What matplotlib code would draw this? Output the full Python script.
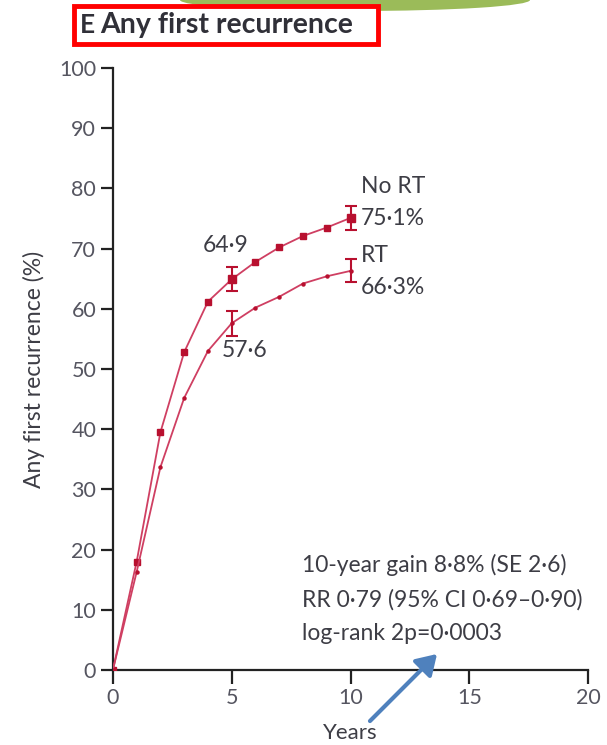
import numpy as np
import matplotlib
matplotlib.use('Agg')
import matplotlib.pyplot as plt
from matplotlib.patches import Rectangle, Ellipse, FancyArrowPatch

plt.rcParams['font.family'] = ['Lato', 'DejaVu Sans']

# data
years = [0, 1, 2, 3, 4, 5, 6, 7, 8, 9, 10]
no_rt = [0, 18.0, 39.5, 52.8, 61.2, 64.9, 67.8, 70.2, 72.1, 73.5, 75.1]
rt = [0, 16.3, 33.7, 45.2, 53.0, 57.6, 60.2, 62.0, 64.2, 65.4, 66.3]
err_years = [5, 10]
no_rt_err = [2.0, 2.0]
rt_err = [2.1, 1.9]
yticks = [0, 10, 20, 30, 40, 50, 60, 70, 80, 90, 100]
xticks = [0, 5, 10, 15, 20]

line_c = '#cf3f62'
mark_c = '#b8102f'
txt_c = '#3d3d45'

fig = plt.figure(figsize=(6.07, 7.45), dpi=100)
ax = fig.add_axes([0.186, 0.1007, 0.783, 0.808])

ax.plot(years, no_rt, color=line_c, lw=1.3, marker='s', ms=4.5,
        mfc=mark_c, mec=mark_c, zorder=3)
ax.plot(years, rt, color=line_c, lw=1.3, marker='o', ms=2.2,
        mfc=mark_c, mec=mark_c, zorder=3)
ax.errorbar(err_years, [no_rt[5], no_rt[10]], yerr=no_rt_err, fmt='s',
            color=mark_c, ms=6, capsize=4, elinewidth=1.5, capthick=1.5, zorder=4)
ax.errorbar(err_years, [rt[5], rt[10]], yerr=rt_err, fmt='none',
            ecolor=mark_c, capsize=4, elinewidth=1.5, capthick=1.5, zorder=4)

ax.set_xlim(0, 20)
ax.set_ylim(0, 100)
ax.set_xticks(xticks)
ax.set_yticks(yticks)
for s in ['top', 'right']:
    ax.spines[s].set_visible(False)
for s in ['left', 'bottom']:
    ax.spines[s].set_linewidth(1.6)
    ax.spines[s].set_color('#222222')
ax.tick_params(axis='both', direction='out', length=9, width=1.6,
               color='#222222', labelsize=15.5, labelcolor='#555560', pad=3)
ax.tick_params(axis='x', length=10, pad=3)

ax.set_ylabel('Any first recurrence (%)', fontsize=16.5, color=txt_c, labelpad=10)
ax.set_xlabel('Years', fontsize=16, color=txt_c, labelpad=11)

fs = 16.5
ax.text(10.45, 80.4, 'No RT', fontsize=fs, color=txt_c, va='center')
ax.text(10.45, 75.0, '75·1%', fontsize=fs, color=txt_c, va='center')
ax.text(10.45, 68.8, 'RT', fontsize=fs, color=txt_c, va='center')
ax.text(10.45, 63.5, '66·3%', fontsize=fs, color=txt_c, va='center')
ax.text(3.8, 70.5, '64·9', fontsize=fs, color=txt_c, va='center')
ax.text(4.6, 53.0, '57·6', fontsize=fs, color=txt_c, va='center')

ax.text(7.95, 17.4, '10-year gain 8·8% (SE 2·6)', fontsize=fs, color=txt_c, va='center')
ax.text(7.95, 11.6, 'RR 0·79 (95% CI 0·69–0·90)', fontsize=fs, color=txt_c, va='center')
ax.text(7.95, 6.0, 'log-rank 2p=0·0003', fontsize=fs, color=txt_c, va='center')

# green shape at top edge
W, H = 607, 745
fig.patches.append(Ellipse((355 / W, 1.0), 350 / W, 22 / H, transform=fig.transFigure,
                           facecolor='#9bbb59', edgecolor='none', zorder=0))
# red title box
fig.patches.append(Rectangle((74 / W, 1 - 44 / H), 304 / W, 38 / H, transform=fig.transFigure,
                             facecolor='white', edgecolor='#ff0000', lw=3.5, zorder=1))
fig.text(80 / W, 1 - 25 / H, 'E', fontsize=19, fontweight='bold', color='#303038', va='center')
fig.text(100 / W, 1 - 25 / H, 'Any first recurrence', fontsize=20.5, fontweight='bold',
         color='#303038', va='center')

# blue arrow
arr = FancyArrowPatch((368 / W, 1 - 723 / H), (439 / W, 1 - 652 / H), transform=fig.transFigure,
                      arrowstyle='-|>,head_length=8,head_width=5', color='#4f81bd', lw=3,
                      mutation_scale=1.5)
fig.patches.append(arr)

fig.savefig('out.png', dpi=100)
